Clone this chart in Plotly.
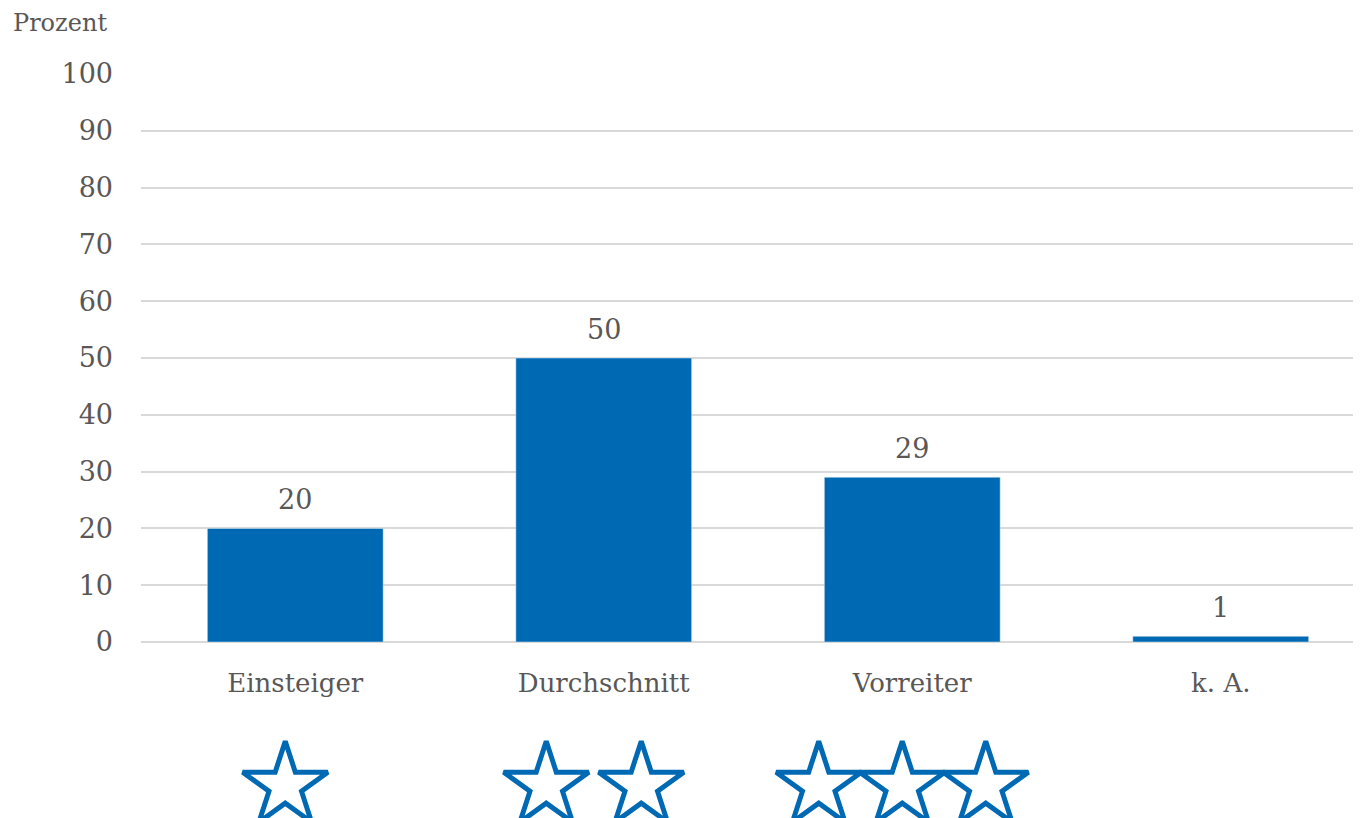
import plotly.graph_objects as go

# Chart data
categories = ['Einsteiger', 'Durchschnitt', 'Vorreiter', 'k. A.']
values = [20, 50, 29, 1]
star_counts = [1, 2, 3, 0]
y_ticks = [0, 10, 20, 30, 40, 50, 60, 70, 80, 90, 100]

# Colours and fonts
bar_color = '#0069B4'
text_color = '#5A5757'
grid_color = '#D9D9D9'
font_family = "'DejaVu Serif'"

# Page geometry (pixels); the page body adds an 8px margin
W, H = 1353, 810
left, top = 133, 66
plot_bottom = 634          # pixel row of y = 0
cat_px = 308.5             # pixel width of one category slot
x_range = [-0.5, -0.5 + (W - left) / cat_px]
strip_h = H - plot_bottom  # space under the axis used for the stars
split = strip_h / (H - top)

fig = go.Figure()

# Bars
fig.add_trace(go.Bar(
    x=list(range(len(categories))), y=values,
    width=0.57, marker_color=bar_color,
    cliponaxis=False, hoverinfo='skip'
))

# Value labels above the bars
annotations = []
for i, v in enumerate(values):
    annotations.append(dict(
        x=i, y=v, xref='x', yref='y', text=str(v), showarrow=False,
        yanchor='bottom', yshift=11,
        font=dict(size=27, color=text_color, family=font_family)
    ))

# Stars under each category
star_gap_px = {1: 0, 2: 95, 3: 83.5}
star_shift_px = -10
sx, sy = [], []
for i, n in enumerate(star_counts):
    if n == 0:
        continue
    gap = star_gap_px[n]
    for k in range(n):
        off = star_shift_px + (k - (n - 1) / 2) * gap
        sx.append(i + off / cat_px)
        sy.append(32)
fig.add_trace(go.Scatter(
    x=sx, y=sy, yaxis='y2', mode='markers',
    marker=dict(symbol='star-open', size=64, color=bar_color,
                line=dict(width=5, color=bar_color)),
    cliponaxis=False, hoverinfo='skip'
))

# Axis title in the top-left corner
annotations.append(dict(
    text='Prozent', xref='paper', yref='paper',
    x=(4 - left) / (W - left), y=H / (H - top),
    xanchor='left', yanchor='top', showarrow=False, borderpad=0,
    font=dict(size=24, color=text_color, family=font_family)
))

fig.update_layout(
    width=W, height=H,
    margin=dict(l=left, r=0, t=top, b=0, autoexpand=False),
    plot_bgcolor='white', paper_bgcolor='white',
    showlegend=False,
    font=dict(family=font_family, color=text_color, size=26),
    xaxis=dict(
        range=x_range, tickvals=list(range(len(categories))), ticktext=categories,
        showgrid=False, zeroline=False, showline=False, ticks='',
        ticklabelstandoff=23, tickfont=dict(size=26, color=text_color),
        anchor='y', automargin=False
    ),
    yaxis=dict(
        domain=[split, 1], range=[0, 100], tickvals=y_ticks,
        showgrid=True, gridcolor=grid_color, gridwidth=1.5,
        zeroline=True, zerolinecolor=grid_color, zerolinewidth=2,
        showline=False, ticks='', ticklabelstandoff=27,
        tickfont=dict(size=27, color=text_color), automargin=False
    ),
    yaxis2=dict(
        domain=[0, split], range=[0, strip_h], visible=False,
        showgrid=False, zeroline=False
    ),
    annotations=annotations
)

fig.write_html("out.html")
